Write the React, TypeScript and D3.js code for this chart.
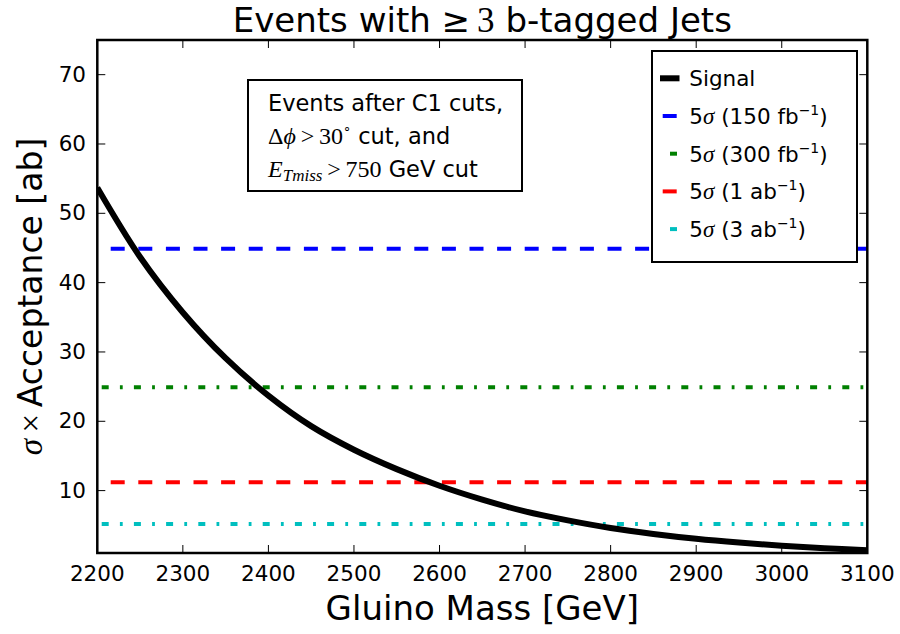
import React from 'react';
import * as d3 from 'd3';

// Gluino mass grid [GeV] and signal cross-section times acceptance [ab]
const massPoints = [2200, 2250, 2300, 2350, 2400, 2450, 2500, 2550, 2600, 2650, 2700, 2750, 2800, 2850, 2900, 2950, 3000, 3050, 3100];
const signalValues = [53.7, 43.7, 35.7, 29.1, 23.7, 19.3, 15.9, 13.1, 10.7, 8.7, 7.0, 5.7, 4.6, 3.75, 3.05, 2.5, 2.05, 1.7, 1.4];

// 5 sigma discovery thresholds for several integrated luminosities
const thresholdLumi = ['150', '300', '1', '3'];
const thresholdUnit = ['fb', 'fb', 'ab', 'ab'];
const thresholdValues = [44.9, 24.9, 11.2, 5.2];

const xTicks = [2200, 2300, 2400, 2500, 2600, 2700, 2800, 2900, 3000, 3100];
const yTicks = [10, 20, 30, 40, 50, 60, 70];

// Styling for the threshold lines
const thresholdColors = ['#0000ff', '#008000', '#ff0000', '#00bfbf'];
const DASHED = { array: '14 13.6', offset: -13.4, legendOffset: -2.7 };
const DASHDOT = { array: '7 11.2 2.8 11.2', offset: -4.4, legendOffset: -10 };
const thresholdDash = [DASHED, DASHDOT, DASHED, DASHDOT];

const SANS = 'DejaVu Sans, sans-serif';
const MATH = 'Liberation Serif, serif';

export default function App() {
  const left = 97.3, right = 867.3, top = 40, bottom = 553;
  const x = d3.scaleLinear().domain([2200, 3100]).range([left, right]);
  const y = d3.scaleLinear().domain([1, 75]).range([bottom, top]);

  const signalPath = d3
    .line<number>()
    .x((_, i) => x(massPoints[i]))
    .y((v) => y(v))
    .curve(d3.curveCatmullRom.alpha(0.5))(signalValues) as string;

  const tickLen = 8;
  const legendX = 652, legendY = 51, legendW = 205, legendH = 211;
  const rowY = (i: number) => 78.3 + i * 37.7;

  return (
    <svg width={900} height={634} style={{ position: 'absolute', left: 0, top: 0, background: '#fff' }}>
      <defs>
        <clipPath id="plot-area">
          <rect x={left} y={top} width={right - left} height={bottom - top} />
        </clipPath>
      </defs>
      <rect x={0} y={0} width={900} height={634} fill="#fff" />

      {/* Title */}
      <text x={(left + right) / 2} y={32} textAnchor="middle" fontFamily={SANS} fontSize={34} fill="#000">
        <tspan>Events with </tspan>
        <tspan fontFamily={SANS} fontSize={34}>≥</tspan>
        <tspan fontFamily={MATH} fontSize={35}>{'\u20093'}</tspan>
        <tspan> b-tagged Jets</tspan>
      </text>

      <g clipPath="url(#plot-area)">
        {thresholdValues.map((v, i) => (
          <line
            key={i}
            x1={x(2200)}
            x2={x(3100)}
            y1={y(v)}
            y2={y(v)}
            stroke={thresholdColors[i]}
            strokeWidth={4}
            strokeDasharray={thresholdDash[i].array}
            strokeDashoffset={thresholdDash[i].offset}
          />
        ))}
        <path d={signalPath} fill="none" stroke="#000" strokeWidth={6} strokeLinejoin="round" />
      </g>

      {/* Ticks on all four sides, pointing inwards */}
      <g stroke="#000" strokeWidth={1}>
        {xTicks.map((t) => (
          <g key={'xt' + t}>
            <line x1={x(t)} x2={x(t)} y1={bottom} y2={bottom - tickLen} />
            <line x1={x(t)} x2={x(t)} y1={top} y2={top + tickLen} />
          </g>
        ))}
        {yTicks.map((t) => (
          <g key={'yt' + t}>
            <line x1={left} x2={left + tickLen} y1={y(t)} y2={y(t)} />
            <line x1={right} x2={right - tickLen} y1={y(t)} y2={y(t)} />
          </g>
        ))}
      </g>

      {/* Axes frame */}
      <rect x={left} y={top} width={right - left} height={bottom - top} fill="none" stroke="#000" strokeWidth={2.5} />

      {/* Tick labels */}
      <g fontFamily={SANS} fontSize={21.5} fill="#000">
        {xTicks.map((t) => (
          <text key={'xl' + t} x={x(t)} y={580.7} textAnchor="middle">{t}</text>
        ))}
        {yTicks.map((t) => (
          <text key={'yl' + t} x={86} y={y(t) + 7} textAnchor="end">{t}</text>
        ))}
      </g>

      {/* Axis labels */}
      <text x={(left + right) / 2} y={620} textAnchor="middle" fontFamily={SANS} fontSize={34} fill="#000">
        Gluino Mass [GeV]
      </text>
      <text
        transform={`translate(42, ${(top + bottom) / 2}) rotate(-90)`}
        textAnchor="middle"
        fontFamily={SANS}
        fontSize={33}
        fill="#000"
      >
        <tspan fontFamily={MATH} fontStyle="italic">σ</tspan>
        <tspan fontFamily={MATH}>{'\u2009×\u2009'}</tspan>
        <tspan>Acceptance [ab]</tspan>
      </text>

      {/* Selection annotation */}
      <rect x={248} y={80} width={274} height={111} fill="#fff" stroke="#000" strokeWidth={2} />
      <g fontFamily={SANS} fontSize={22.5} fill="#000">
        <text x={268} y={111}>Events after C1 cuts,</text>
        <text x={268} y={144}>
          <tspan fontFamily={MATH} fontSize={24}>Δ</tspan>
          <tspan fontFamily={MATH} fontSize={24} fontStyle="italic">ϕ</tspan>
          <tspan fontFamily={MATH} fontSize={24}>{'\u2009>\u200930'}</tspan>
          <tspan fontFamily={MATH} fontSize={13} dy={-12}>∘</tspan>
          <tspan dy={12}> cut, and</tspan>
        </text>
        <text x={268} y={177}>
          <tspan fontFamily={MATH} fontSize={24} fontStyle="italic">E</tspan>
          <tspan fontFamily={MATH} fontSize={17} fontStyle="italic" dy={4}>Tmiss</tspan>
          <tspan fontFamily={MATH} fontSize={24} dy={-4}>{'\u2009>\u2009750'}</tspan>
          <tspan> GeV cut</tspan>
        </text>
      </g>

      {/* Legend */}
      <rect x={legendX} y={legendY} width={legendW} height={legendH} fill="#fff" stroke="#000" strokeWidth={2} />
      <line x1={660} x2={679.5} y1={rowY(0)} y2={rowY(0)} stroke="#000" strokeWidth={6} />
      <text x={689.3} y={rowY(0) + 7.8} fontFamily={SANS} fontSize={21.5} fill="#000">Signal</text>
      {thresholdValues.map((_, i) => (
        <g key={'lg' + i}>
          <line
            x1={660}
            x2={680}
            y1={rowY(i + 1)}
            y2={rowY(i + 1)}
            stroke={thresholdColors[i]}
            strokeWidth={4}
            strokeDasharray={thresholdDash[i].array}
            strokeDashoffset={thresholdDash[i].legendOffset}
          />
          <text x={689.3} y={rowY(i + 1) + 7.8} fontFamily={SANS} fontSize={21.5} fill="#000">
            <tspan>5</tspan>
            <tspan fontFamily={MATH} fontStyle="italic" fontSize={23}>σ</tspan>
            <tspan>{` (${thresholdLumi[i]} ${thresholdUnit[i]}`}</tspan>
            <tspan fontSize={14} dy={-9}>−1</tspan>
            <tspan dy={9}>)</tspan>
          </text>
        </g>
      ))}
    </svg>
  );
}
